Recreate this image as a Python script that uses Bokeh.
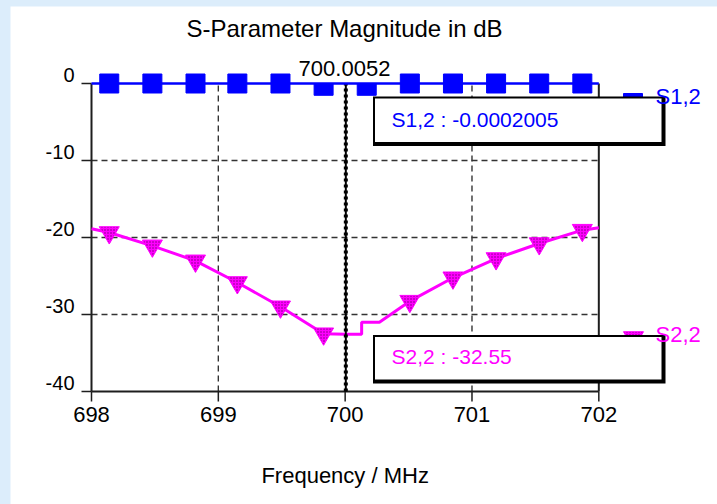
from bokeh.plotting import figure
from bokeh.models import Range1d, Label
from bokeh.layouts import column
from bokeh.embed import file_html
from bokeh.resources import INLINE

FONT = "Liberation Sans"
BLUE = "#0000ff"
MAGENTA = "#ff00ff"
INK = "#1e1e1e"

# axis ticks
x_ticks = [698, 699, 700, 701, 702]
y_ticks = [0, -10, -20, -30, -40]
x_caption = "Frequency / MHz"
title_text = "S-Parameter Magnitude in dB"

# marker positions (MHz) shared by both traces
freq_markers = [698.14, 698.48, 698.82, 699.15, 699.49, 699.83,
                700.17, 700.51, 700.85, 701.19, 701.53, 701.87]

# S1,2 in dB
s12_markers = [0.0, 0.0, 0.0, 0.0, 0.0, -0.3, -0.3, 0.0, 0.0, 0.0, 0.0, 0.0]
s12_trace_freq = [698.0, 702.0]
s12_trace_db = [0.0, 0.0]

# S2,2 in dB
s22_marker_freq = [698.14, 698.48, 698.82, 699.15, 699.49, 699.83,
                   700.51, 700.85, 701.19, 701.53, 701.87]
s22_markers = [-19.35, -21.08, -23.03, -25.84, -29.0, -32.5,
               -28.27, -25.23, -22.73, -20.78, -19.05]
s22_trace_freq = [698.0, 698.14, 698.48, 698.82, 699.15, 699.49, 699.83,
                  700.0052, 700.13, 700.13, 700.27, 700.51, 700.85,
                  701.19, 701.53, 701.87, 702.0]
s22_trace_db = [-18.87, -19.35, -21.08, -23.03, -25.84, -29.0, -32.5,
                -32.55, -32.55, -31.0, -31.0, -28.27, -25.23,
                -22.73, -20.78, -19.05, -18.74]

# marker readout
marker_freq = 700.0052
s12_at_marker = -0.0002005
s22_at_marker = -32.55

# canvas geometry: the frame fills the whole canvas, axes are drawn by hand
W, H = 707, 498
AXIS_X = 81            # canvas x of the left axis
ZERO_Y = 77            # canvas y of 0 dB
PX_PER_MHZ = 126.83
PX_PER_DB = 7.7
BASELINE_FIX = 9       # Label baselines land this many px low


def fx(cx):
    """canvas x (px) -> MHz"""
    return x_ticks[0] + (cx - AXIS_X) / PX_PER_MHZ


def fy(cy):
    """canvas y (px, from top) -> dB"""
    return (ZERO_Y - cy) / PX_PER_DB


def cy_of(db):
    """dB -> canvas y (px, from top)"""
    return ZERO_Y - db * PX_PER_DB


def text_label(x, cy, text, size, color, align="left"):
    return Label(x=x, y=fy(cy - BASELINE_FIX), text=text, text_align=align,
                 text_baseline="alphabetic", text_font=FONT,
                 text_font_size=size, text_color=color)


p = figure(width=W, height=H, output_backend="svg", toolbar_location=None,
           x_range=Range1d(fx(0), fx(W)), y_range=Range1d(fy(H), fy(0)),
           x_axis_location=None, y_axis_location=None,
           min_border_left=0, min_border_right=0, min_border_top=0,
           min_border_bottom=0, outline_line_color=None,
           background_fill_color="white", border_fill_color="white")
p.grid.visible = False

y_bottom = y_ticks[-1]
y_top = y_ticks[0]
x_left = x_ticks[0]
x_right = x_ticks[-1]

# y ticks and labels (labels sit on top of their tick)
p.segment(x0=[fx(AXIS_X - 10)] * len(y_ticks), x1=[x_left] * len(y_ticks),
          y0=y_ticks, y1=y_ticks, line_color=INK, line_width=1.5)
for v in y_ticks:
    p.add_layout(text_label(fx(AXIS_X - 17), cy_of(v), str(v), "20px", "black",
                            "right"))

# x ticks hanging below the bottom edge, with their labels
p.segment(x0=x_ticks, x1=x_ticks, y0=[y_bottom] * len(x_ticks),
          y1=[fy(cy_of(y_bottom) + 10)] * len(x_ticks),
          line_color=INK, line_width=1.5)
for t in x_ticks:
    p.add_layout(text_label(t, cy_of(y_bottom) + 32, str(t), "22px", "black",
                            "center"))

# x axis caption
p.add_layout(text_label((x_left + x_right) / 2, cy_of(y_bottom) + 93,
                        x_caption, "22px", "black", "center"))

# dashed grid inside the plotting box
inner_y = y_ticks[1:-1]
inner_x = [t for t in x_ticks[1:-1] if t != 700]
p.segment(x0=[x_left] * len(inner_y), x1=[x_right] * len(inner_y),
          y0=inner_y, y1=inner_y, line_color="#333333", line_width=1.4,
          line_dash="6 4")
p.segment(x0=inner_x, x1=inner_x, y0=[y_bottom] * len(inner_x),
          y1=[y_top] * len(inner_x), line_color="#333333",
          line_width=1.4, line_dash="6 4")

# box edges: left axis, bottom axis, right border
p.segment(x0=[x_left, x_left, x_right], x1=[x_left, x_right, x_right],
          y0=[y_bottom, y_bottom, y_bottom], y1=[y_top, y_bottom, y_top],
          line_color=INK, line_width=2)

# S2,2 trace
p.line(s22_trace_freq, s22_trace_db, line_color=MAGENTA, line_width=3)
p.scatter(s22_marker_freq, s22_markers, marker="inverted_triangle", size=20,
          fill_color=MAGENTA, line_color=MAGENTA, line_width=1,
          hatch_pattern="dot", hatch_color="#7a007a", hatch_scale=3,
          hatch_weight=1)

# marker cursor
p.segment(x0=[marker_freq], x1=[marker_freq], y0=[y_bottom], y1=[y_top],
          line_color="black", line_width=2)
p.segment(x0=[marker_freq], x1=[marker_freq], y0=[y_bottom], y1=[y_top],
          line_color="black", line_width=4, line_dash="3 3")

# S1,2 markers, then the cursor readout patch, then the S1,2 line on top
p.scatter(freq_markers, s12_markers, marker="square", size=19,
          fill_color=BLUE, line_color=BLUE)
p.quad(left=[fx(286)], right=[fx(382)], top=[fy(52)], bottom=[fy(77.5)],
       fill_color="white", line_color=None)
p.line(s12_trace_freq, s12_trace_db, line_color=BLUE, line_width=2.5)

p.add_layout(text_label(fx(334), 71, f"{marker_freq}", "22px", "black", "center"))

# legend entries
p.scatter([fx(622.5)], [fy(96.5)], marker="square", size=19,
          fill_color=BLUE, line_color=BLUE)
p.scatter([fx(623)], [fy(331)], marker="inverted_triangle", size=20,
          fill_color=MAGENTA, line_color=MAGENTA, hatch_pattern="dot",
          hatch_color="#7a007a", hatch_scale=3, hatch_weight=1)
p.add_layout(text_label(fx(645), 99, "S1,2", "22px", BLUE))
p.add_layout(text_label(fx(645), 337, "S2,2", "22px", MAGENTA))

# readout boxes with a drop shadow on the right and bottom
for top, bottom in [(90, 139.5), (328.5, 377)]:
    p.quad(left=[fx(362.5)], right=[fx(655)], top=[fy(top)], bottom=[fy(bottom)],
           fill_color="black", line_color=None)
    p.quad(left=[fx(364.5)], right=[fx(651)], top=[fy(top + 2)],
           bottom=[fy(bottom - 4)], fill_color="white", line_color=None)

p.add_layout(text_label(fx(381), 122, f"S1,2 : {s12_at_marker}", "21px", BLUE))
p.add_layout(text_label(fx(381), 359, f"S2,2 : {s22_at_marker}", "21px", MAGENTA))

# title
p.add_layout(text_label(fx(334), 31, title_text, "24px", "black", "center"))

p.margin = (6, 0, 0, 10)
page = column(p, styles={"background-color": "#dcedfb"})

open("out.html", "w").write(file_html(page, INLINE))
